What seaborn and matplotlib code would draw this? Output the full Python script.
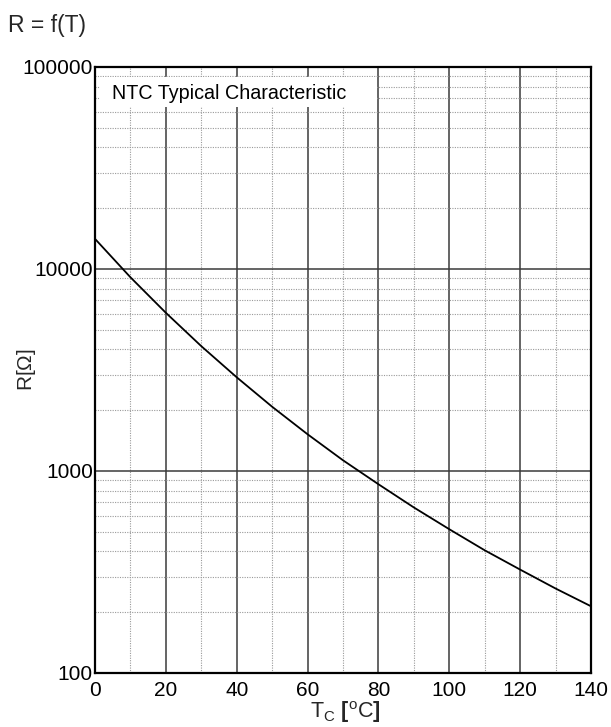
import numpy as np
import pandas as pd
import matplotlib
matplotlib.use("Agg")
import matplotlib.pyplot as plt
from matplotlib.patches import Rectangle
from matplotlib.ticker import FixedLocator, LogLocator, NullFormatter
import seaborn as sns

# NTC thermistor resistance vs. case temperature
temperature_c = [0, 10, 20, 30, 40, 50, 60, 70, 80, 90, 100, 110, 120, 130, 140]
resistance_ohm = [14100, 9100, 6070, 4150, 2910, 2080, 1520, 1130, 860, 660,
                  515, 405, 325, 262, 214]

x_ticks = [0, 20, 40, 60, 80, 100, 120, 140]
y_ticks = [100, 1000, 10000, 100000]
y_tick_labels = ["100", "1000", "10000", "100000"]

sns.set_style("white")
plt.rcParams["font.family"] = ["Liberation Sans", "DejaVu Sans"]
plt.rcParams["mathtext.fontset"] = "custom"
plt.rcParams["mathtext.rm"] = "Liberation Sans"
plt.rcParams["mathtext.bf"] = "Liberation Sans:bold"

df = pd.DataFrame({"T": temperature_c, "R": resistance_ohm})

fig = plt.figure(figsize=(6.11, 7.27), dpi=100)
ax = fig.add_axes([95 / 611, 1 - 673 / 727, 496 / 611, 606 / 727])
ax.set_yscale("log")
ax.set_axisbelow(True)

sns.lineplot(data=df, x="T", y="R", ax=ax, color="black", linewidth=1.3, zorder=3)

ax.set_xlim(0, 140)
ax.set_ylim(100, 100000)

ax.xaxis.set_major_locator(FixedLocator(x_ticks))
ax.xaxis.set_minor_locator(FixedLocator([10, 30, 50, 70, 90, 110, 130]))
ax.yaxis.set_major_locator(FixedLocator(y_ticks))
ax.yaxis.set_minor_locator(LogLocator(base=10, subs=np.arange(2, 10)))
ax.yaxis.set_minor_formatter(NullFormatter())
ax.set_yticklabels(y_tick_labels)
ax.set_xticklabels([str(t) for t in x_ticks])

ax.grid(which="major", color="#3a3a3a", linewidth=1.1, linestyle="-")
ax.grid(which="minor", color="#9a9a9a", linewidth=0.8, linestyle=(0, (1, 1.2)))

ax.tick_params(axis="both", which="both", length=0)
ax.tick_params(axis="x", labelsize=15, pad=5.5, colors="black")
ax.tick_params(axis="y", labelsize=15, pad=1.5, colors="black")

for side in ["left", "right", "top", "bottom"]:
    ax.spines[side].set_visible(True)
    ax.spines[side].set_color("black")
    ax.spines[side].set_linewidth(1.6)

# caption box inside the plot area
ax.add_patch(Rectangle((1.4, 63400), 78.2, 89200 - 63400, facecolor="white",
                       edgecolor="none", zorder=2))
ax.text(4.8, 69500, "NTC Typical Characteristic", fontsize=14.2, va="baseline",
        ha="left", zorder=4, color="black")

ax.set_xlabel("")
ax.set_ylabel("")
fig.text(345 / 611, 1 - 718 / 727,
         r"$\mathregular{T_C}$ $\mathbf{[}$$\mathregular{^oC}$$\mathbf{]}$",
         fontsize=15.5, ha="center", va="baseline")
fig.text(27 / 611, 1 - 370 / 727, r"R[$\Omega$]", fontsize=15, rotation=90,
         ha="center", va="center")
fig.text(8 / 611, 1 - 32 / 727, "R = f(T)", fontsize=16.5, ha="left", va="baseline")

fig.savefig("out.png", dpi=100)
